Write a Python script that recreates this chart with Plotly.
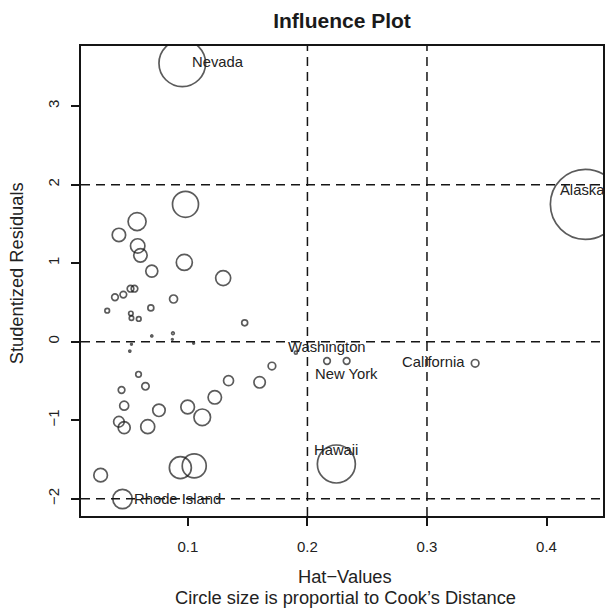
import numpy as np
import plotly.graph_objects as go

# ---- data ----
state = ["Nevada", "Alaska", "Hawaii", "California", "Washington", "New York", "Rhode Island",
         "", "", "", "", "", "", "", "", "", "", "", "", "", "", "", "", "", "", "", "",
         "", "", "", "", "", "", "", "", "", "", "", "", "", "", "", "", "", "", "", "",
         "", "", ""]
hat = [0.0953, 0.4325, 0.2242, 0.3403, 0.2164, 0.2328, 0.0453,
       0.1903, 0.0980, 0.0575, 0.0423, 0.0580, 0.0603, 0.0698, 0.0970, 0.1295,
       0.0390, 0.0460, 0.0520, 0.0553, 0.0880, 0.0690, 0.0325, 0.0523, 0.0528,
       0.0589, 0.1475, 0.0875, 0.0698, 0.0870, 0.1048, 0.0528, 0.0514, 0.0587,
       0.0445, 0.0645, 0.0467, 0.0758, 0.0423, 0.0467, 0.0664, 0.0998, 0.1120,
       0.1225, 0.1340, 0.1600, 0.1703, 0.0937, 0.1053, 0.0270]
rstudent = [3.547, 1.750, -1.558, -0.275, -0.246, -0.246, -2.004,
            -0.140, 1.750, 1.530, 1.360, 1.220, 1.100, 0.900, 1.010, 0.810,
            0.566, 0.600, 0.675, 0.675, 0.544, 0.430, 0.395, 0.360, 0.300,
            0.290, 0.240, 0.107, 0.073, 0.030, -0.020, -0.033, -0.120, -0.415,
            -0.615, -0.568, -0.815, -0.874, -1.020, -1.095, -1.083, -0.832, -0.963,
            -0.708, -0.497, -0.517, -0.310, -1.605, -1.583, -1.700]
cooks = [0.2440, 0.5500, 0.1620, 0.0065, 0.0049, 0.0049, 0.0422,
         0.0010, 0.0759, 0.0364, 0.0202, 0.0233, 0.0202, 0.0162, 0.0288, 0.0253,
         0.0049, 0.0049, 0.0049, 0.0049, 0.0072, 0.0040, 0.0024, 0.0022, 0.0022,
         0.0024, 0.0040, 0.0008, 0.00045, 0.00029, 0.00029, 0.00029, 0.00045, 0.0035,
         0.0049, 0.0061, 0.0091, 0.0173, 0.0126, 0.0162, 0.0220, 0.0208, 0.0309,
         0.0202, 0.0112, 0.0146, 0.0065, 0.0543, 0.0647, 0.0208]

x_ticks = [0.1, 0.2, 0.3, 0.4]
y_ticks = [-2, -1, 0, 1, 2, 3]
hat_cut = [0.2, 0.3]
res_cut = [-2, 0, 2]

title = "Influence Plot"
xlab = "Hat\u2212Values"
sublab = "Circle size is proportial to Cook\u2019s Distance"
ylab = "Studentized Residuals"

# label placement: (xanchor, xshift, yshift)
label_pos = {
    "Nevada": ("left", 8, 1),
    "Alaska": ("center", -3, 14),
    "Hawaii": ("center", 0, 14),
    "California": ("right", -8, 1),
    "Washington": ("center", 0, 14),
    "New York": ("center", 0, -13),
    "Rhode Island": ("left", 9, 0),
}

FONT = "Liberation Sans, Arial, Helvetica, sans-serif"
INK = "#151515"
TXT = "#222222"

cooks_arr = np.array(cooks)
sizes = 2 * 35 * np.sqrt(cooks_arr / cooks_arr.max())

fig = go.Figure()
fig.add_trace(go.Scatter(
    x=hat, y=rstudent, mode="markers",
    marker=dict(symbol="circle-open", size=sizes, color=INK, line=dict(width=1.7, color=INK)),
    hoverinfo="x+y", showlegend=False, cliponaxis=True,
))

for v in hat_cut:
    fig.add_vline(x=v, line=dict(color=INK, width=1.5, dash="9px,6px"))
for v in res_cut:
    fig.add_hline(y=v, line=dict(color=INK, width=1.5, dash="9px,6px"))

for name, xv, yv in zip(state, hat, rstudent):
    if not name:
        continue
    xa, xs, ys = label_pos[name]
    fig.add_annotation(x=xv, y=yv, text=name, showarrow=False, xanchor=xa, yanchor="middle",
                       xshift=xs, yshift=ys, font=dict(family=FONT, size=14.8, color=TXT))

# axis titles
fig.add_annotation(xref="paper", yref="paper", x=0.505, y=-0.1283, text=xlab, showarrow=False,
                   xanchor="center", yanchor="middle", font=dict(family=FONT, size=18.3, color=TXT))
fig.add_annotation(xref="paper", yref="paper", x=0.506, y=-0.1730, text=sublab, showarrow=False,
                   xanchor="center", yanchor="middle", font=dict(family=FONT, size=18.3, color=TXT))
fig.add_annotation(xref="paper", yref="paper", x=-0.124, y=0.5, yshift=8, text=ylab, showarrow=False,
                   textangle=-90, xanchor="center", yanchor="middle",
                   font=dict(family=FONT, size=18.3, color=TXT))

fig.update_layout(
    width=606, height=608,
    margin=dict(l=81, r=1, t=46, b=92, pad=0),
    paper_bgcolor="white", plot_bgcolor="white",
    title=dict(text="<b>" + title + "</b>", x=0.5, xref="paper", y=1 - 20.5 / 608, yanchor="middle",
               font=dict(family=FONT, size=21, color="#1a1a1a")),
    font=dict(family=FONT, color=TXT),
    xaxis=dict(range=[0.01058, 0.44725], tickvals=x_ticks, ticktext=[f"{t:.1f}" for t in x_ticks],
               showgrid=False, zeroline=False, showline=True, mirror=True, linecolor=INK, linewidth=1.5,
               ticks="outside", ticklen=8, tickwidth=1.5, tickcolor=INK,
               tickfont=dict(family=FONT, size=15, color=TXT), ticklabelstandoff=8),
    yaxis=dict(range=[-2.2204, 3.7669], tickvals=y_ticks, ticktext=[str(t).replace("-", "\u2212") for t in y_ticks],
               showgrid=False, zeroline=False, showline=True, mirror=True, linecolor=INK, linewidth=1.5,
               ticks="outside", ticklen=8, tickwidth=1.5, tickcolor=INK, tickangle=-90,
               tickfont=dict(family=FONT, size=15, color=TXT), ticklabelstandoff=6),
)

fig.write_html("out.html", config={"displayModeBar": False},
               post_script="document.body.style.margin='0';document.body.style.overflow='hidden';")
